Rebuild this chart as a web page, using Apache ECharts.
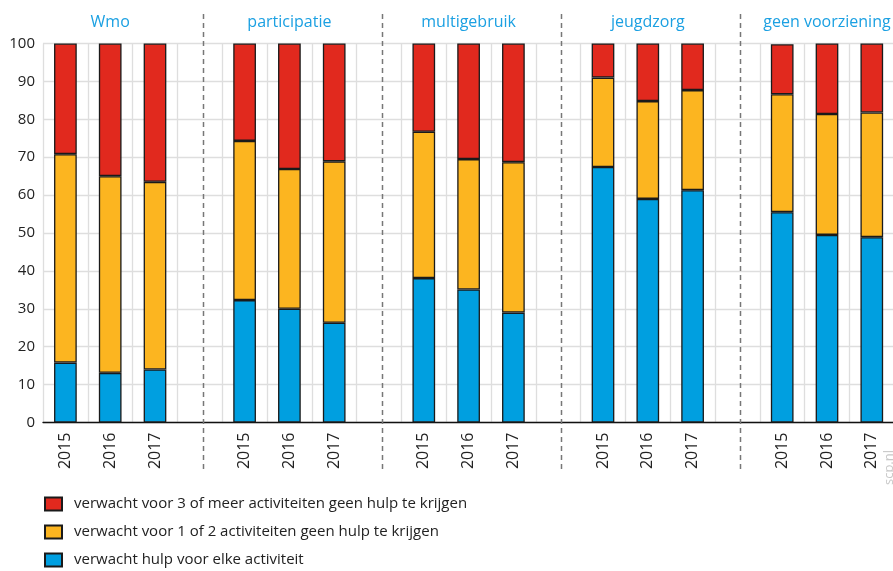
<!DOCTYPE html>
<html>
<head>
<meta charset="utf-8">
<script src="https://cdn.jsdelivr.net/npm/echarts@6/dist/echarts.min.js"></script>
<style>html,body{margin:0;padding:0;background:#fff;overflow:hidden;width:893px;height:571px;}#c{width:939px;height:600px;}</style>
</head>
<body>
<div id="c"></div>
<script>
var groups = ['Wmo', 'participatie', 'multigebruik', 'jeugdzorg', 'geen voorziening'];
var years = ['2015', '2016', '2017'];
var yTicks = [0, 10, 20, 30, 40, 50, 60, 70, 80, 90, 100];
var blue   = [15.8, 13.1, 14.0, 32.3, 30.0, 26.3, 38.1, 35.1, 29.0, 67.4, 59.0, 61.3, 55.5, 49.5, 48.9];
var yellow = [55.0, 51.9, 49.5, 42.0, 36.9, 42.6, 38.6, 34.4, 39.7, 23.6, 25.8, 26.4, 31.1, 31.9, 32.9];
var red    = [29.2, 35.0, 36.5, 25.7, 33.1, 31.1, 23.3, 30.5, 31.3, 9.0, 15.2, 12.3, 13.2, 18.6, 18.2];
var seriesNames = [
  'verwacht voor 3 of meer activiteiten geen hulp te krijgen',
  'verwacht voor 1 of 2 activiteiten geen hulp te krijgen',
  'verwacht hulp voor elke activiteit'
];
var colors = ['#e1291e', '#fcb520', '#009fe0'];

// build 20 categories: 3 bars + 1 empty slot per group
var cats = [], topLabels = [], gapIdx = [];
var expand = function (arr) {
  var out = [];
  groups.forEach(function (g, gi) {
    years.forEach(function (y, yi) { out.push(arr[gi * 3 + yi]); });
    out.push(null);
  });
  return out;
};
groups.forEach(function (g, gi) {
  years.forEach(function (y, yi) {
    cats.push(g + '|' + y);
    topLabels.push(yi === 1 ? g : '');
  });
  cats.push(g + '|gap');
  topLabels.push('');
  gapIdx.push(cats.length - 1);
});

var chart = echarts.init(document.getElementById('c'), null, {renderer: 'canvas'});
var font = '"Open Sans", "Noto Sans", sans-serif';
var barStyle = function (c) { return {color: c, borderColor: '#1a1a1a', borderWidth: 1.3}; };

var option = {
  animation: false,
  textStyle: {fontFamily: font},
  grid: {left: 43, top: 43.5, right: 0, height: 379, containLabel: false},
  legend: {
    orient: 'vertical', left: 44, top: 494, padding: 0,
    itemWidth: 17, itemHeight: 13, itemGap: 8,
    icon: 'rect',
    textStyle: {fontSize: 15, color: '#222', fontFamily: font, padding: [0, 0, 0, 7], lineHeight: 20},
    data: seriesNames
  },
  xAxis: [{
    type: 'category', data: cats, position: 'bottom',
    axisLine: {lineStyle: {color: '#111', width: 1.3}},
    axisTick: {
      alignWithLabel: true, length: 6, lineStyle: {color: '#111', width: 1.3},
      interval: function (i, v) { return v.indexOf('gap') < 0; }
    },
    axisLabel: {
      interval: 0, rotate: 90, margin: 10, fontSize: 16, color: '#222', fontFamily: font,
      formatter: function (v) { var p = v.split('|'); return p[1] === 'gap' ? '' : p[1]; }
    },
    splitLine: {show: true, interval: 0, lineStyle: {color: '#dedede', width: 1.3}}
  }, {
    type: 'category', data: topLabels, position: 'top',
    axisLine: {show: false}, axisTick: {show: false},
    axisLabel: {interval: 0, margin: 13, fontSize: 16, color: '#1ba0e2', fontFamily: font},
    splitLine: {show: false}
  }],
  yAxis: {
    type: 'value', min: 0, max: 100, interval: 10,
    axisLine: {show: false}, axisTick: {show: false},
    axisLabel: {fontSize: 15, color: '#222', margin: 8, fontFamily: font,
      formatter: function (v) { return yTicks.indexOf(v) >= 0 ? String(v) : ''; }},
    splitLine: {lineStyle: {color: '#dedede', width: 1.3}}
  },
  series: [
    {name: seriesNames[2], type: 'bar', stack: 's', barWidth: 22.7, data: expand(blue), itemStyle: barStyle(colors[2])},
    {name: seriesNames[1], type: 'bar', stack: 's', barWidth: 22.7, data: expand(yellow), itemStyle: barStyle(colors[1])},
    {name: seriesNames[0], type: 'bar', stack: 's', barWidth: 22.7, data: expand(red), itemStyle: barStyle(colors[0])}
  ]
};
chart.setOption(option);

// dashed separators between groups, positioned through the category scale
var gfx = gapIdx.slice(0, gapIdx.length - 1).map(function (gi) {
  var x = Math.round(chart.convertToPixel({xAxisIndex: 0}, cats[gi])) + 3.5;
  return {
    type: 'line', silent: true, z: 10,
    shape: {x1: x, y1: 14, x2: x, y2: 470},
    style: {stroke: '#777', lineWidth: 1.5, lineDash: [5, 4]}
  };
});
gfx.push({
  type: 'text', left: 883, top: 450, rotation: Math.PI / 2, silent: true,
  style: {text: 'scp.nl', fontSize: 13, fill: '#c8c8c8', fontFamily: font}
});
chart.setOption({graphic: gfx});
</script>
</body>
</html>
